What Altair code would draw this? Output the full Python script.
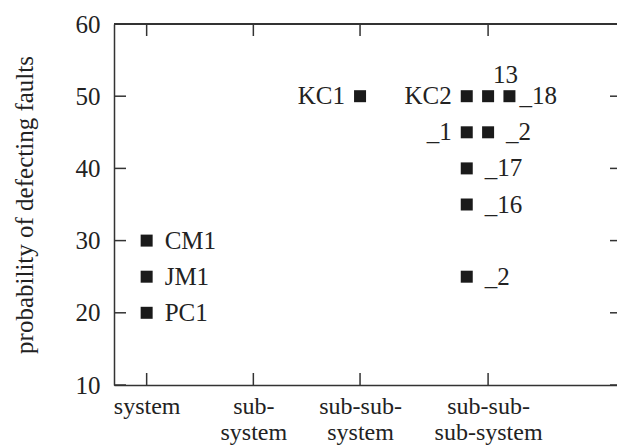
import altair as alt
import pandas as pd

# ---- data ----
projects = ["CM1", "JM1", "PC1", "KC1", "KC2", "_1", "13", "_2", "_18", "_17", "_16", "_2"]
levels = [1, 1, 1, 3, 4.0, 4.0, 4.2, 4.2, 4.4, 4.0, 4.0, 4.0]
probs = [30, 25, 20, 50, 50, 45, 50, 45, 50, 40, 35, 25]
sides = ["right", "right", "right", "left", "left", "left", "top", "right", "near", "right", "right", "right"]

x_tick_values = [1, 2, 3, 4.2]
x_tick_labels = [["system"], ["sub-", "system"], ["sub-sub-", "system"], ["sub-sub-", "sub-system"]]
y_tick_values = [10, 20, 30, 40, 50, 60]
y_title = "probability of defecting faults"

df = pd.DataFrame({"project": projects, "level": levels, "prob": probs, "side": sides})
ytick_df = pd.DataFrame({"prob": y_tick_values})
xtick_df = pd.DataFrame({"level": x_tick_values})

# ---- style ----
W, H = 503, 361
FONT = "Liberation Serif"
FS = 25
XFS = 24
INK = "#222222"
LINE = "#333333"

label_expr = ""
for v, lines in zip(x_tick_values, x_tick_labels):
    arr = "[" + ",".join("'" + s + "'" for s in lines) + "]"
    label_expr += f"datum.value == {v} ? {arr} : "
label_expr += "''"

xscale = alt.Scale(domain=[0.694, 0.694 + W / 106.7], nice=False, zero=False)
yscale = alt.Scale(domain=[10, 60], nice=False, zero=False)

xaxis = alt.Axis(title=None, values=x_tick_values, ticks=False, grid=False,
                 domain=True, domainColor=LINE, domainWidth=1.5,
                 labelExpr=label_expr, labelAngle=0, labelFont=FONT, labelFontSize=XFS,
                 labelColor=INK, labelPadding=9, labelLineHeight=26,
                 labelFlush=False, labelOverlap=False)
yaxis = alt.Axis(title=y_title, values=y_tick_values, ticks=False, grid=False,
                 domain=True, domainColor=LINE, domainWidth=1.5,
                 labelFont=FONT, labelFontSize=FS, labelColor=INK, labelPadding=14,
                 labelFlush=False, labelOverlap=False,
                 titleFont=FONT, titleFontSize=FS, titleFontWeight="normal",
                 titleColor=INK, titleX=-77)

X = alt.X("level:Q", scale=xscale, axis=xaxis)
Y = alt.Y("prob:Q", scale=yscale, axis=yaxis)

points = alt.Chart(df).mark_square(size=144, color="#1a1a1a", opacity=1).encode(x=X, y=Y)

def labels(side, align, dx, dy=0):
    return alt.Chart(df).transform_filter(alt.datum.side == side).mark_text(
        align=align, baseline="middle", dx=dx, dy=dy, font=FONT, fontSize=FS, color=INK
    ).encode(x=X, y=Y, text="project:N")

t_right = labels("right", "left", 18)
t_near = labels("near", "left", 10)
t_left = labels("left", "right", -15)
t_top = labels("top", "left", 5, -21)

rule_style = dict(color=LINE, strokeWidth=1.5)
left_ticks = alt.Chart(ytick_df).mark_rule(**rule_style).encode(y=Y, x=alt.value(0), x2=alt.value(12))
right_ticks = alt.Chart(ytick_df).mark_rule(**rule_style).encode(y=Y, x=alt.value(W - 7), x2=alt.value(W))
bottom_ticks = alt.Chart(xtick_df).mark_rule(**rule_style).encode(x=X, y=alt.value(H - 12), y2=alt.value(H))
top_ticks = alt.Chart(xtick_df).mark_rule(**rule_style).encode(x=X, y=alt.value(0), y2=alt.value(12))
top_line = alt.Chart(xtick_df).mark_rule(**rule_style).encode(x=alt.value(0), x2=alt.value(W), y=alt.value(0))

chart = alt.layer(
    top_line, left_ticks, right_ticks, bottom_ticks, top_ticks,
    points, t_right, t_near, t_left, t_top
).properties(
    width=W, height=H,
    padding={"left": 114, "top": 24, "right": 0, "bottom": 62},
    autosize=alt.AutoSizeParams(type="none"),
    background="white",
).configure_view(stroke=None)

chart.save("out.html", embed_options={"renderer": "svg", "actions": False})
